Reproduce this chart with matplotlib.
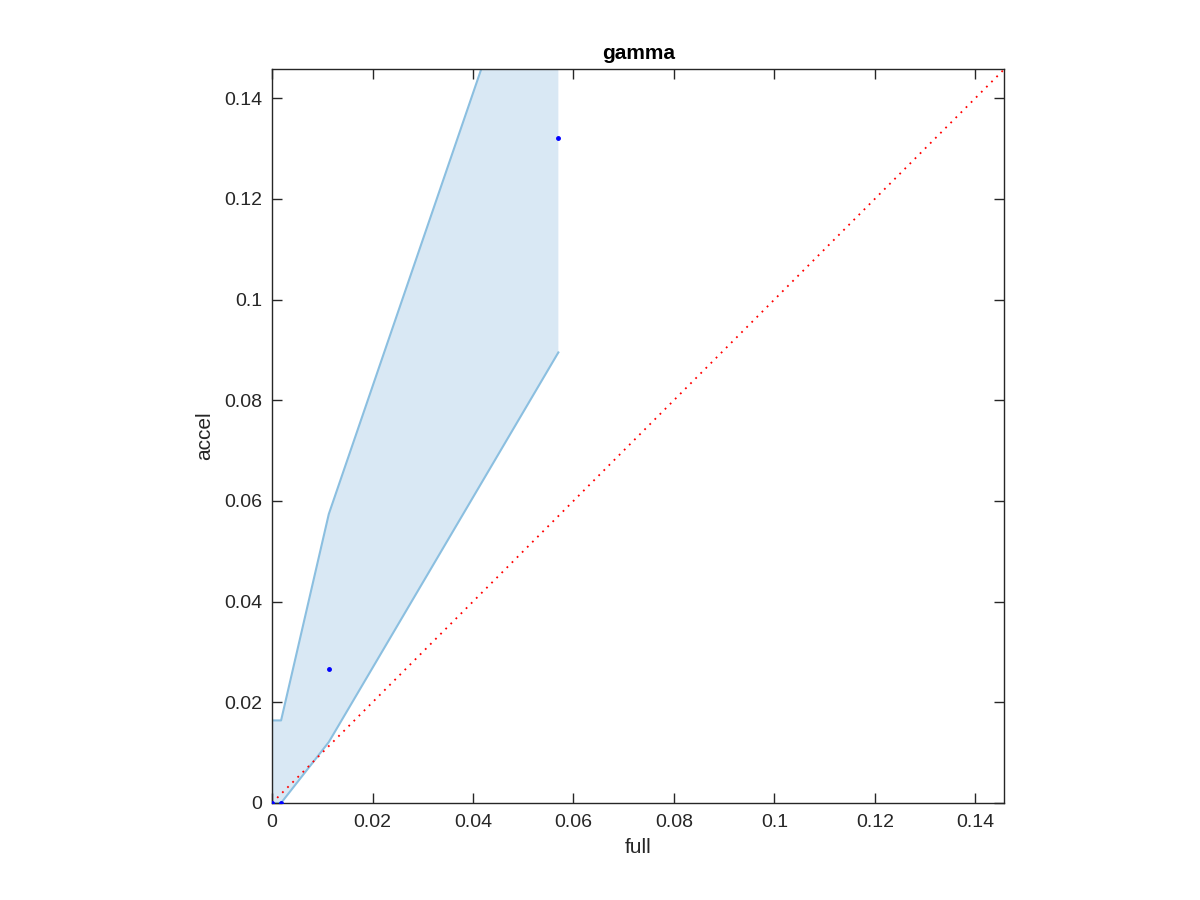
import numpy as np
import matplotlib.pyplot as plt
from matplotlib.ticker import FuncFormatter

plt.rcParams['font.family'] = ['Liberation Sans', 'DejaVu Sans']

# sample points (full vs accel)
full = [0.0, 0.0018, 0.0113, 0.0570]
accel = [0.0, 0.0, 0.0267, 0.1321]

# confidence band
band_x = [0.0, 0.0018, 0.0113, 0.0570]
band_lo = [0.0, 0.0, 0.0121, 0.0895]
band_hi = [0.0164, 0.0164, 0.0574, 0.1905]

lim = 0.1458
ticks = [0, 0.02, 0.04, 0.06, 0.08, 0.1, 0.12, 0.14]

fig = plt.figure(figsize=(12, 9), dpi=100)
ax = fig.add_axes([0.2267, 0.1078, 0.6103, 0.8155])

poly_x = band_x + band_x[::-1]
poly_y = band_lo + band_hi[::-1]
ax.fill(poly_x, poly_y, color='#d9e8f4', lw=0, zorder=1)
ax.plot(band_x, band_lo, color='#8bbfe0', lw=1.5, zorder=2)
ax.plot(band_x, band_hi, color='#8bbfe0', lw=1.5, zorder=2)
ax.plot([0, 0], [band_lo[0], band_hi[0]], color='#8bbfe0', lw=1.5, zorder=2)

ax.plot([0, lim], [0, lim], color='red', ls=(0, (1, 3)), lw=1.3, zorder=3)
ax.plot(full, accel, 'o', color='blue', ms=2.5, zorder=4)

ax.set_xlim(0, lim)
ax.set_ylim(0, lim)
ax.set_xticks(ticks)
ax.set_yticks(ticks)
fmt = FuncFormatter(lambda v, p: ('%g' % round(v, 4)))
ax.xaxis.set_major_formatter(fmt)
ax.yaxis.set_major_formatter(fmt)
ax.tick_params(direction='in', top=True, right=True, length=7, width=1,
               labelsize=14, color='#262626', labelcolor='#262626')
ax.tick_params(axis='x', pad=8)
ax.tick_params(axis='y', pad=7)
for s in ax.spines.values():
    s.set_color('#262626')
    s.set_linewidth(1)

ax.set_xlabel('full', fontsize=15, color='#262626', labelpad=5)
ax.set_ylabel('accel', fontsize=15, color='#262626', labelpad=7)
ax.set_title('gamma', fontsize=15, fontweight='bold', pad=7)

fig.savefig('out.png', dpi=100)
